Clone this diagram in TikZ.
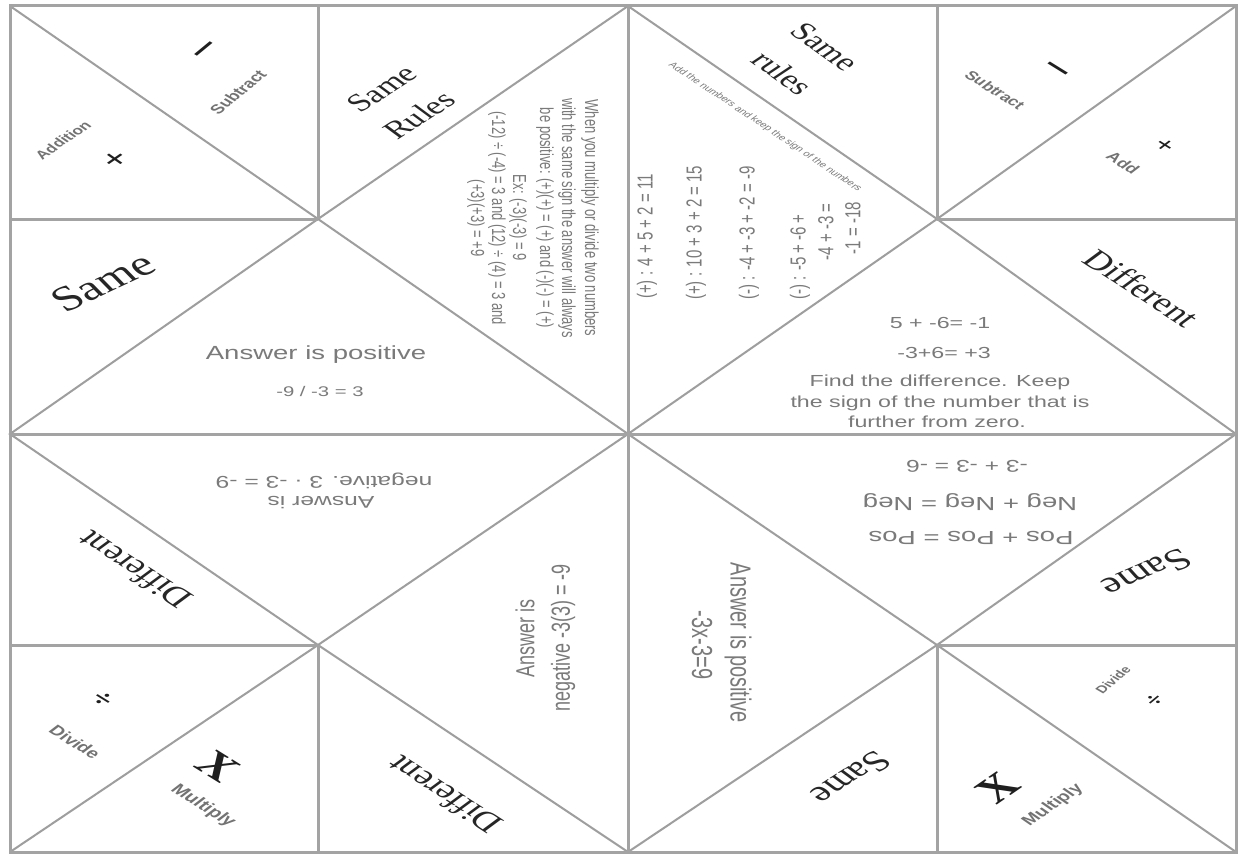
\documentclass[tikz,border=0pt]{standalone}
\usepackage{fontspec}
\setmainfont{Liberation Serif}
\newfontfamily\sansf{Liberation Sans}
\begin{document}
\begin{tikzpicture}[x=1pt,y=-1pt,
  gridln/.style={draw=black!36,line width=3pt},
  diagln/.style={draw=black!38,line width=2pt},
  stretched/.style={inner sep=0pt, xscale=1.449},
  labbig/.style={stretched, text=black!85, font=\fontsize{#1}{#1}\selectfont},
  bodytx/.style={stretched, text=black!52, font=\sansf\fontsize{#1}{#1}\selectfont},
  wordtx/.style={stretched, text=black!55, font=\sansf\bfseries\fontsize{#1}{#1}\selectfont},
  signtx/.style={stretched, text=black!88, font=\bfseries\fontsize{#1}{#1}\selectfont},
]
\fill[white] (0,0) rectangle (1241,856);
\useasboundingbox (0,0) rectangle (1241,856);

% frame points
\coordinate (TL) at (10,6);   \coordinate (TR) at (1236,6);
\coordinate (BL) at (10,852); \coordinate (BR) at (1236,852);
\coordinate (T1) at (318,6);  \coordinate (T2) at (628,6);  \coordinate (T3) at (937,6);
\coordinate (B1) at (318,852);\coordinate (B2) at (628,852);\coordinate (B3) at (937,852);
\coordinate (L1) at (10,219); \coordinate (L2) at (10,434); \coordinate (L3) at (10,645);
\coordinate (R1) at (1236,219);\coordinate (R2) at (1236,434);\coordinate (R3) at (1236,645);
\coordinate (a) at (318,219); \coordinate (b) at (937,219); \coordinate (c) at (628,434);
\coordinate (d) at (318,645); \coordinate (e) at (937,645);

% diagonals and diamond
\draw[diagln] (TL) -- (a) -- (c) -- (e) -- (BR);
\draw[diagln] (TR) -- (b) -- (c) -- (d) -- (BL);
\draw[diagln] (T2) -- (b) -- (R2) -- (e) -- (B2) -- (d) -- (L2) -- (a) -- cycle;

% grid lines
\draw[gridln] (TL) rectangle (BR);
\draw[gridln] (T2) -- (B2);
\draw[gridln] (L2) -- (R2);
\draw[gridln] (T1) -- (a);  \draw[gridln] (d) -- (B1);
\draw[gridln] (T3) -- (b);  \draw[gridln] (e) -- (B3);
\draw[gridln] (L1) -- (a);  \draw[gridln] (b) -- (R1);
\draw[gridln] (L3) -- (d);  \draw[gridln] (e) -- (R3);

% big serif labels
\node (sameL) at (103,282) [labbig=35, rotate=34] {Same};
\node (diffR) at (1142,288) [labbig=27, rotate=-43] {Different};
\node (diffL) at (134,570) [labbig=27, rotate=137] {Different};
\node (diffB) at (444,795) [labbig=27, rotate=137] {Different};
\node (sameB) at (851,778) [labbig=29, rotate=-137] {Same};
\node (sameR) at (1147,573) [labbig=30, rotate=-148] {Same};
\node (sr1) at (382,89) [labbig=25, rotate=43] {Same};
\node (sr2) at (419,115) [labbig=25, rotate=43] {Rules};
\node (sr3) at (825,47) [labbig=25, rotate=-46] {Same};
\node (sr4) at (783,73) [labbig=25, rotate=-46] {rules};

% center-left flap
\node (ap1) at (316,355) [bodytx=19] {Answer is positive};
\node (ap2) at (320,391) [bodytx=14] {-9 / -3 = 3};

% center-right flap
\node (dr1) at (940,323) [bodytx=16] {5 + -6= -1};
\node (dr2) at (944,353) [bodytx=16] {-3+6= +3};
\node (dr3) at (940,382) [bodytx=16] {Find the difference. Keep};
\node (dr4) at (940,403) [bodytx=16] {the sign of the number that is};
\node (dr5) at (937,422) [bodytx=16] {further from zero.};

% lower-right-center flap (upside down)
\node (sb1) at (967,466) [bodytx=17, rotate=180] {-3 + -3 = -6};
\node (sb2) at (970,502) [bodytx=19, rotate=180] {Neg + Neg = Neg};
\node (sb3) at (971,538) [bodytx=19, rotate=180] {Pos + Pos = Pos};

% lower-left-center flap (upside down)
\node (nb1) at (324,481) [bodytx=17, rotate=180] {negative. 3 · -3 = -9};
\node (nb2) at (321,503) [bodytx=17, rotate=180] {Answer is};

% lower middle vertical texts
\node (vl1) at (525,638) [bodytx=18, rotate=90] {Answer is};
\node (vl2) at (563,638) [bodytx=18, rotate=90] {negative -3(3) = -9};
\node (vr1) at (738,643) [bodytx=20, rotate=-90] {Answer is positive};
\node (vr2) at (702,645) [bodytx=20, rotate=-90] {-3x-3=9};

% upper-right-center flap
\node (rs) at (765,127) [bodytx=8, rotate=-44] {Add the numbers and keep the sign of the numbers};
\node (ex1) at (647,299) [bodytx=15, rotate=90, anchor=west] {(+) : 4 + 5 + 2 = 11};
\node (ex2) at (696,300) [bodytx=15, rotate=90, anchor=west] {(+) : 10 + 3 + 2 = 15};
\node (ex3) at (749,300) [bodytx=15, rotate=90, anchor=west] {(-) : -4 + -3 + -2 = -9};
\node (ex4) at (800,300) [bodytx=15, rotate=90, anchor=west] {(-) : -5 + -6 +};
\node (ex5) at (826,232) [bodytx=15, rotate=90] {-4 + -3 =};
\node (ex6) at (853,228) [bodytx=15, rotate=90] {-1 = -18};

% upper-left-center flap
\node (pp1) at (590,218) [bodytx=13, rotate=-90] {When you multiply or divide two numbers};
\node (pp2) at (567,218) [bodytx=13, rotate=-90] {with the same sign the answer will always};
\node (pp3) at (545,218) [bodytx=13, rotate=-90] {be positive: (+)(+) = (+) and (-)(-) = (+)};
\node (pp4) at (518,218) [bodytx=13, rotate=-90] {Ex: (-3)(-3) = 9};
\node (pp5) at (497,218) [bodytx=13, rotate=-90] {(-12) ÷ (-4) = 3 and (12) ÷ (4) = 3 and};
\node (pp6) at (476,218) [bodytx=13, rotate=-90] {(+3)(+3) = +9};

% corner flaps
\node (tlm) at (210,52) [signtx=36, rotate=50] {−};
\node (tlw) at (238,92) [wordtx=13, rotate=50] {Subtract};
\node (tlp) at (117,160) [signtx=28, rotate=45] {+};
\node (tla) at (63,140) [wordtx=12, rotate=45] {Addition};

\node (trw) at (995,90) [wordtx=12.5, rotate=-42] {Subtract};
\node (trm) at (1053,72) [signtx=36, rotate=-42] {−};
\node (tra) at (1123,163) [wordtx=13, rotate=-42] {Add};
\node (trp) at (1164,146) [signtx=22, rotate=-42] {+};

\node (bld) at (102,700) [signtx=24, rotate=-42] {÷};
\node (bldw) at (75,742) [wordtx=14, rotate=-42] {Divide};
\node (blx) at (218,766) [signtx=36, rotate=-42] {X};
\node (blxw) at (203,806) [wordtx=14.5, rotate=-42] {Multiply};

\node (brdw) at (1113,680) [wordtx=10.5, rotate=50] {Divide};
\node (brd) at (1155,701) [signtx=20, rotate=50] {÷};
\node (brx) at (998,788) [signtx=36, rotate=45] {X};
\node (brxw) at (1053,805) [wordtx=14, rotate=45] {Multiply};
\end{tikzpicture}
\end{document}
